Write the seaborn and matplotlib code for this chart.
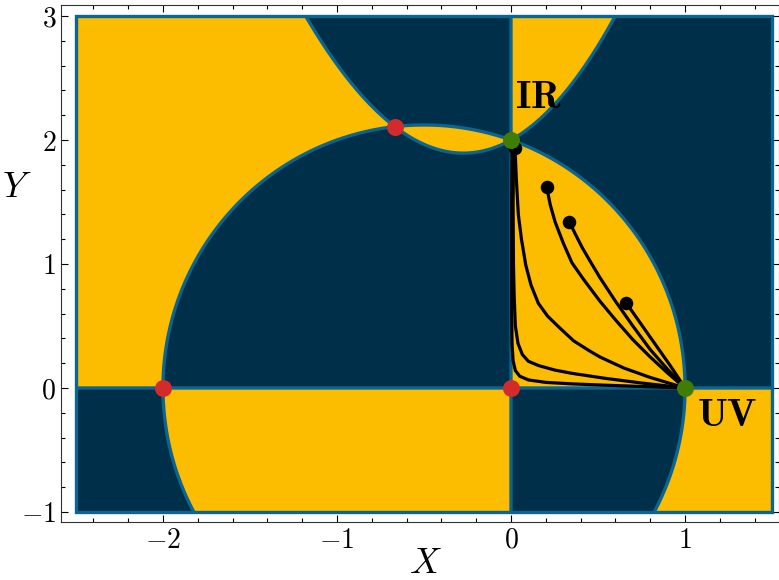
import numpy as np
import pandas as pd
import seaborn as sns
import matplotlib.pyplot as plt
from matplotlib.patches import Rectangle
from matplotlib.ticker import FuncFormatter, MultipleLocator

# colours
NAVY = '#003049'
GOLD = '#fcbc00'
EDGE = '#0a6590'
RED = '#d32b2b'
GREEN = '#3f7d05'

# box of the coupling plane
x_range = [-2.5, 1.5]
y_range = [-1.0, 3.0]

# ellipse through (-2,0), (1,0), (0,2): ex2*x^2 + ex1*x + ey2*y^2 + e0 = 0
ell_coef = [1.0, 1.0, 0.5, -2.0]
# second nullcline y = 2 + c1 x + c2 x^2 + c3 x^3
curve_coef = [2.0, 0.78, 1.45, 0.06]

# fixed points
fp_x = [-2.0, 0.0, -0.667, 0.0, 1.0]
fp_y = [0.0, 0.0, 2.108, 2.0, 0.0]
fp_kind = ['red', 'red', 'red', 'green', 'green']

# starting points of the flows
start_x = [0.023, 0.205, 0.335, 0.661]
start_y = [1.938, 1.623, 1.341, 0.688]

# flow lines
flow_F_x = [0.006, 0.004, 0.004, 0.004, 0.006, 0.012, 0.025, 0.05, 0.1, 0.2, 0.35, 0.55, 0.75, 1.0]
flow_F_y = [1.93, 1.5, 1.0, 0.6, 0.35, 0.22, 0.14, 0.095, 0.065, 0.045, 0.033, 0.022, 0.012, 0.0]
flow_E_x = [0.015, 0.012, 0.014, 0.018, 0.025, 0.04, 0.065, 0.1, 0.16, 0.25, 0.35, 0.54, 0.75, 1.0]
flow_E_y = [1.93, 1.5, 1.0, 0.75, 0.5, 0.36, 0.27, 0.215, 0.18, 0.145, 0.118, 0.078, 0.04, 0.0]
flow_D_x = [0.023, 0.03, 0.042, 0.06, 0.085, 0.115, 0.157, 0.21, 0.272, 0.36, 0.45, 0.511, 0.65, 0.8, 1.0]
flow_D_y = [1.938, 1.7, 1.4, 1.2, 0.99, 0.83, 0.683, 0.58, 0.495, 0.38, 0.3, 0.25, 0.16, 0.085, 0.0]
flow_A_x = [0.205, 0.225, 0.253, 0.30, 0.35, 0.42, 0.511, 0.6, 0.7, 0.8, 0.9, 1.0]
flow_A_y = [1.623, 1.48, 1.341, 1.17, 1.01, 0.87, 0.70, 0.55, 0.39, 0.25, 0.12, 0.0]
flow_B_x = [0.335, 0.37, 0.41, 0.46, 0.511, 0.6, 0.7, 0.8, 0.9, 1.0]
flow_B_y = [1.341, 1.24, 1.13, 1.01, 0.89, 0.70, 0.50, 0.31, 0.15, 0.0]
flow_C_x = [0.661, 0.75, 0.83, 0.92, 1.0]
flow_C_y = [0.688, 0.51, 0.35, 0.17, 0.0]

flows = pd.concat([
    pd.DataFrame({'x': fx, 'y': fy, 'flow': name})
    for name, fx, fy in [('F', flow_F_x, flow_F_y), ('E', flow_E_x, flow_E_y),
                         ('D', flow_D_x, flow_D_y), ('A', flow_A_x, flow_A_y),
                         ('B', flow_B_x, flow_B_y), ('C', flow_C_x, flow_C_y)]
], ignore_index=True)
fixed = pd.DataFrame({'x': fp_x, 'y': fp_y, 'kind': fp_kind})
starts = pd.DataFrame({'x': start_x, 'y': start_y})

sns.set_style('ticks')
plt.rcParams['mathtext.fontset'] = 'cm'
plt.rcParams['font.family'] = ['DejaVu Serif']
plt.rcParams['text.color'] = 'black'
plt.rcParams['xtick.color'] = 'black'
plt.rcParams['ytick.color'] = 'black'
plt.rcParams['axes.labelcolor'] = 'black'

# sign regions
gx = np.linspace(x_range[0], x_range[1], 1601)
gy = np.linspace(y_range[0], y_range[1], 1601)
X, Y = np.meshgrid(gx, gy)
E = ell_coef[0] * X**2 + ell_coef[1] * X + ell_coef[2] * Y**2 + ell_coef[3]
P = Y - (curve_coef[0] + curve_coef[1] * X + curve_coef[2] * X**2 + curve_coef[3] * X**3)
S = np.sign(X) * np.sign(Y) * np.sign(E) * np.sign(P)

fig = plt.figure(figsize=(7.79, 5.8), dpi=100)
ax = fig.add_axes([0.0783, 0.1, 0.9217, 0.8914])

ax.contourf(X, Y, S, levels=[-2, 0, 2], colors=[NAVY, GOLD], zorder=1)
for F in [E, P, X, Y]:
    ax.contour(X, Y, F, levels=[0], colors=EDGE, linewidths=2.4, zorder=2)
ax.add_patch(Rectangle((gx[0], gy[0]), gx[-1] - gx[0], gy[-1] - gy[0],
                       fill=False, edgecolor=EDGE, lw=2.4, zorder=2))

sns.lineplot(data=flows, x='x', y='y', units='flow', estimator=None, sort=False,
             color='black', lw=2.3, ax=ax, zorder=3)
ax.scatter(starts.x, starts.y, s=95, color='black', zorder=4, linewidths=0)
for kind, col in [('red', RED), ('green', GREEN)]:
    sub = fixed[fixed.kind == kind]
    ax.scatter(sub.x, sub.y, s=150, color=col, zorder=5, linewidths=0)

ax.text(0.155, 2.343, r'$\mathbf{IR}$', fontsize=28, color='black', ha='center', va='center', zorder=6)
ax.text(1.24, -0.218, r'$\mathbf{UV}$', fontsize=28, color='black', ha='center', va='center', zorder=6)

ax.set_xlim(-2.586, 1.54)
ax.set_ylim(-1.081, 3.089)
ax.xaxis.set_major_locator(MultipleLocator(1))
ax.yaxis.set_major_locator(MultipleLocator(1))
ax.xaxis.set_minor_locator(MultipleLocator(0.2))
ax.yaxis.set_minor_locator(MultipleLocator(0.2))
fmt = FuncFormatter(lambda v, p: r'$%d$' % round(v))
ax.xaxis.set_major_formatter(fmt)
ax.yaxis.set_major_formatter(fmt)
ax.tick_params(which='both', direction='in', top=True, right=True, width=0.8, labelsize=20)
ax.tick_params(which='major', length=5)
ax.tick_params(which='minor', length=2.8)
for sp in ax.spines.values():
    sp.set_linewidth(0.8)
    sp.set_color('#333333')

ax.set_xlabel(r'$X$', fontsize=26)
ax.set_ylabel(r'$Y$', fontsize=26, rotation=0)
ax.xaxis.set_label_coords(0.507, -0.08)
ax.yaxis.set_label_coords(-0.062, 0.648)
ax.yaxis.label.set_va('center')
ax.xaxis.label.set_va('center')

fig.savefig('out.png', dpi=100)
